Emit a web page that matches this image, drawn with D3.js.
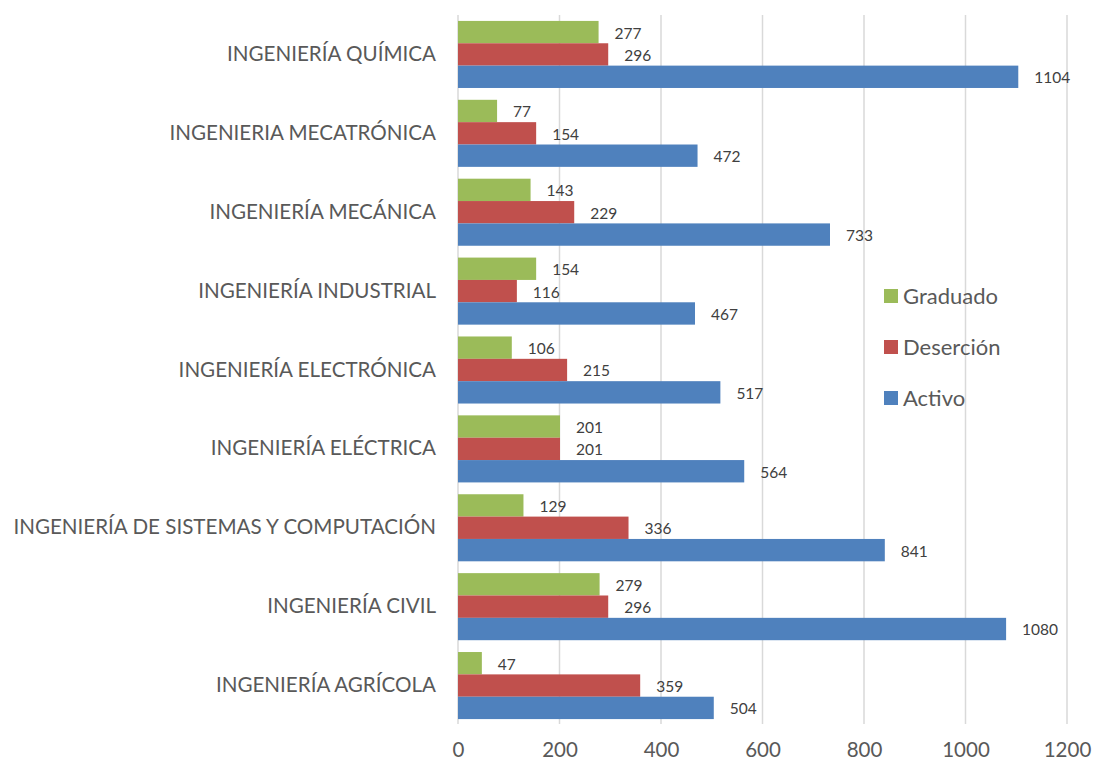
<!DOCTYPE html>
<html><head><meta charset="utf-8">
<script src="https://cdn.jsdelivr.net/npm/d3@7"></script>
<style>body{margin:0;background:#fff}svg{display:block}</style>
</head><body>
<svg id="c" width="1095" height="766"></svg>
<script>
const categories = ["INGENIERÍA QUÍMICA","INGENIERIA MECATRÓNICA","INGENIERÍA MECÁNICA","INGENIERÍA INDUSTRIAL","INGENIERÍA ELECTRÓNICA","INGENIERÍA ELÉCTRICA","INGENIERÍA DE SISTEMAS Y COMPUTACIÓN","INGENIERÍA CIVIL","INGENIERÍA AGRÍCOLA"];
const graduado = [277,77,143,154,106,201,129,279,47];
const desercion = [296,154,229,116,215,201,336,296,359];
const activo = [1104,472,733,467,517,564,841,1080,504];
const seriesNames = ["Graduado","Deserción","Activo"];
const seriesColors = ["#9BBB59","#C0504D","#4F81BD"];
const xTicks = [0,200,400,600,800,1000,1200];

const series = [graduado, desercion, activo];
const svg = d3.select("#c");
const font = "Lato, 'Open Sans', sans-serif";
const x = d3.scaleLinear().domain([0,1200]).range([458,1067]);
const y = d3.scaleBand().domain(categories).range([15,725]).paddingInner(0.15).paddingOuter(0.075);
const inner = d3.scaleBand().domain(seriesNames).range([0,y.bandwidth()]);

// gridlines
svg.append("g").selectAll("line").data(xTicks).join("line")
  .attr("x1",d=>x(d)).attr("x2",d=>x(d)).attr("y1",15).attr("y2",724)
  .attr("stroke","#D9D9D9").attr("stroke-width",1.5);

// x axis labels
const xa = d3.axisBottom(x).tickValues(xTicks).tickFormat(d3.format("d")).tickSize(0).tickPadding(0);
const gx = svg.append("g").attr("transform","translate(0,742)").call(xa);
gx.select(".domain").remove();
gx.selectAll("text").attr("font-family",font).attr("font-size",20.5).attr("fill","#595959").attr("dy","0.71em");

// y axis labels
const ya = d3.axisLeft(y).tickSize(0).tickPadding(22);
const gy = svg.append("g").attr("transform","translate(458,0)").call(ya);
gy.select(".domain").remove();
gy.selectAll("text").attr("font-family",font).attr("font-size",20.6).attr("fill","#595959");

// bars
series.forEach((vals,si)=>{
  const g = svg.append("g");
  g.selectAll("rect").data(vals).join("rect")
    .attr("x",x(0)).attr("y",(d,i)=>y(categories[i])+inner(seriesNames[si]))
    .attr("width",d=>x(d)-x(0)).attr("height",inner.bandwidth())
    .attr("fill",seriesColors[si]);
  g.selectAll("text").data(vals).join("text")
    .attr("x",d=>x(d)+16).attr("y",(d,i)=>y(categories[i])+inner(seriesNames[si])+inner.bandwidth()/2+1)
    .attr("dy","0.35em").attr("font-family",font).attr("font-size",15.5).attr("fill","#404040")
    .text(d=>d);
});

// legend
const lg = svg.append("g");
seriesNames.forEach((n,i)=>{
  const cy = 296 + i*51;
  lg.append("rect").attr("x",884).attr("y",cy-7).attr("width",14).attr("height",14).attr("fill",seriesColors[i]);
  lg.append("text").attr("x",903).attr("y",cy).attr("dy","0.35em").attr("font-family",font).attr("font-size",22).attr("fill","#595959").text(n);
});
</script>
</body></html>
